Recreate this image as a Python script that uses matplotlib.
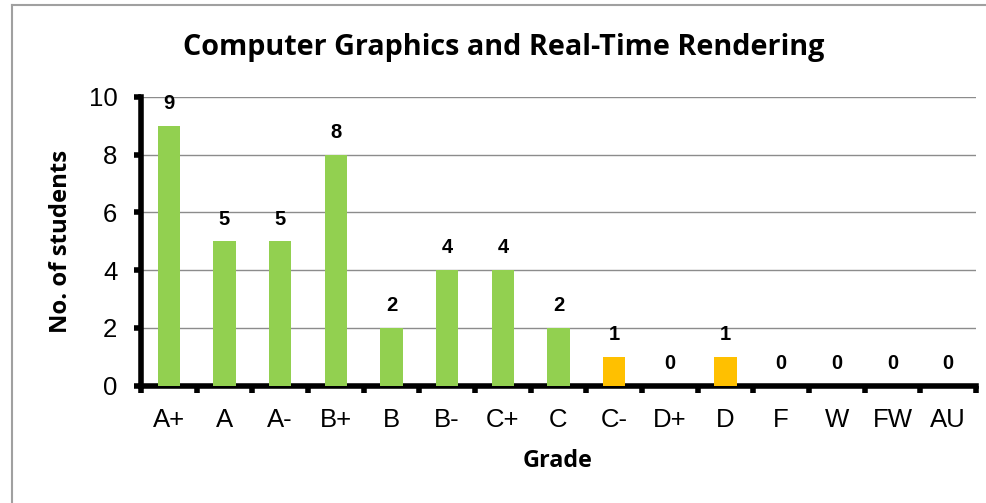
import matplotlib
matplotlib.use("Agg")
import matplotlib.pyplot as plt
from matplotlib.lines import Line2D
import numpy as np

grades = ["A+", "A", "A-", "B+", "B", "B-", "C+", "C", "C-", "D+", "D", "F", "W", "FW", "AU"]
students = [9, 5, 5, 8, 2, 4, 4, 2, 1, 0, 1, 0, 0, 0, 0]
colors = ["#92D050"] * 8 + ["#FFC000", "#FFC000", "#FFC000"] + ["#92D050"] * 4
title = "Computer Graphics and Real-Time Rendering"
y_ticks = [0, 2, 4, 6, 8, 10]

W, H = 987, 503
fig = plt.figure(figsize=(W / 100, H / 100), dpi=100)
fig.patch.set_facecolor("white")

def fx(px):
    return px / W

def fy(py):
    return 1 - py / H

left, right, top, bottom = 141, 976, 97, 385.5
ax = fig.add_axes([fx(left), fy(bottom), fx(right) - fx(left), fy(top) - fy(bottom)])

x = np.arange(len(grades))
ax.bar(x, students, width=0.4, color=colors, zorder=3)
ax.set_xlim(-0.5, len(grades) - 0.5)
ax.set_ylim(0, 10)

for xi, v in zip(x, students):
    ax.annotate(str(v), (xi, v), xytext=(0, 16), textcoords="offset points",
                ha="center", va="center", fontsize=14.5, fontweight="bold",
                family="Liberation Sans", color="black")

ax.set_yticks(y_ticks)
ax.set_yticklabels([str(t) for t in y_ticks], family="Liberation Sans", fontsize=18.5)
ax.yaxis.grid(True, color="#8C8C8C", linewidth=1.0, zorder=0)
ax.set_axisbelow(True)

ax.set_xticks(x)
ax.set_xticklabels(grades, family="Liberation Sans", fontsize=18.5)
ax.set_xticks(np.arange(-0.5, len(grades)), minor=True)
ax.tick_params(axis="x", which="major", length=0, pad=16)
ax.tick_params(axis="x", which="minor", length=5, width=4, direction="out", color="black")
ax.tick_params(axis="y", which="major", length=5, width=4, direction="out", pad=12, color="black")

for s in ["top", "right"]:
    ax.spines[s].set_visible(False)
for s in ["left", "bottom"]:
    ax.spines[s].set_linewidth(4)
    ax.spines[s].set_color("black")
    ax.spines[s].set_capstyle("projecting")

t_title = fig.text(fx(503.5), fy(47), title, ha="center", va="center", fontsize=20,
                   fontweight="bold", family="Open Sans")
t_ylab = fig.text(fx(61), fy(241.5), "No. of students", ha="center", va="center", rotation=90,
                  fontsize=16, fontweight="bold", family="Open Sans")
t_xlab = fig.text(fx(558), fy(461), "Grade", ha="center", va="center", fontsize=16,
                  fontweight="bold", family="Open Sans")

# fit text sizes to the measured extents of the reference
targets = [(t_title, 643, "w"), (t_ylab, 183, "h"), (t_xlab, 70, "w")]
for _ in range(3):
    fig.canvas.draw()
    r = fig.canvas.get_renderer()
    for t, target, dim in targets:
        bb = t.get_window_extent(r)
        cur = bb.width if dim == "w" else bb.height
        t.set_fontsize(t.get_fontsize() * target / cur)

fig.add_artist(Line2D([fx(12), fx(12)], [fy(5), fy(520)], color="#A0A0A0", linewidth=1.5,
                      transform=fig.transFigure))
fig.add_artist(Line2D([fx(12), fx(1000)], [fy(5), fy(5)], color="#A0A0A0", linewidth=1.5,
                      transform=fig.transFigure))

fig.savefig("out.png", dpi=100)
